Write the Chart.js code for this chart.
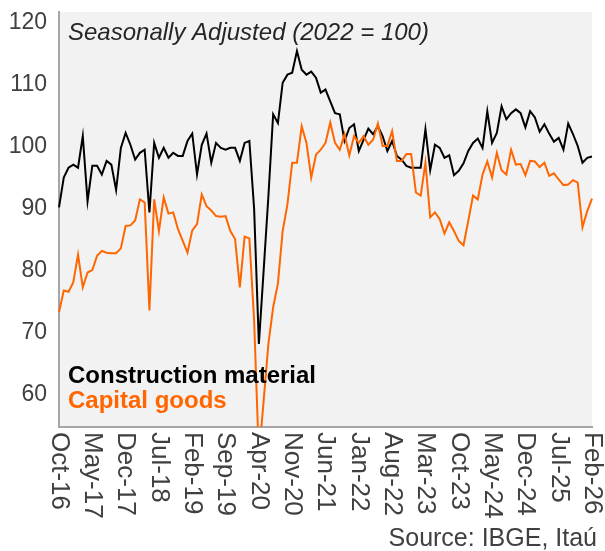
<!DOCTYPE html>
<html>
<head>
<meta charset="utf-8">
<script src="https://cdn.jsdelivr.net/npm/chart.js@4.4.1/dist/chart.umd.min.js"></script>
<style>
  html, body { margin: 0; padding: 0; background: #fff; }
  #wrap { width: 605px; height: 551px; }
</style>
</head>
<body>
<div id="wrap"><canvas id="chart" width="605" height="551"></canvas></div>
<script>
// Monthly categories, Oct-16 .. Feb-26
const monthNames = ['Jan', 'Feb', 'Mar', 'Apr', 'May', 'Jun', 'Jul', 'Aug', 'Sep', 'Oct', 'Nov', 'Dec'];
const months = [];
for (let y = 2016, m = 9; y < 2026 || (y === 2026 && m <= 1); m++) {
    if (m === 12) { m = 0; y++; }
    months.push(monthNames[m] + '-' + String(y).slice(2));
}

const tickLabels = ['Oct-16', 'May-17', 'Dec-17', 'Jul-18', 'Feb-19', 'Sep-19', 'Apr-20', 'Nov-20', 'Jun-21',
    'Jan-22', 'Aug-22', 'Mar-23', 'Oct-23', 'May-24', 'Dec-24', 'Jul-25', 'Feb-26'];
const yTicks = [60, 70, 80, 90, 100, 110, 120];

// Construction material (black)
const construction = [
    90.2, 95.0, 96.6, 97.1, 96.6, 101.7, 91.2, 96.9, 96.9, 95.5,
    97.7, 97.1, 93.0, 99.8, 102.2, 100.3, 97.9, 99.0, 99.5, 89.4,
    100.6, 98.2, 99.8, 98.2, 99.0, 98.5, 98.5, 100.9, 102.1, 95.5,
    100.3, 102.1, 97.4, 100.6, 99.8, 99.5, 99.8, 99.8, 97.7, 100.6,
    100.9, 90.0, 68.2, 80.0, 92.0, 105.2, 103.8, 110.3, 111.6, 111.9,
    115.4, 112.4, 111.6, 112.1, 111.1, 108.7, 109.2, 107.3, 105.4, 105.2,
    100.9, 103.0, 103.6, 99.3, 101.1, 102.9, 102.0, 103.3, 101.7, 99.3,
    100.9, 98.5, 97.9, 96.9, 96.6, 96.6, 96.6, 102.8, 96.2, 100.3,
    99.8, 98.2, 98.6, 95.4, 96.1, 97.3, 99.3, 100.6, 101.3, 99.8,
    105.7, 100.6, 102.2, 106.5, 104.4, 105.4, 106.0, 105.4, 103.1, 105.7,
    104.7, 102.4, 103.6, 102.1, 100.8, 101.4, 99.5, 103.7, 102.0, 100.1,
    97.4, 98.2, 98.4
];

// Capital goods (orange)
const capitalGoods = [
    73.3, 76.8, 76.6, 78.1, 82.6, 77.3, 79.7, 80.1, 82.4, 83.2,
    82.9, 82.8, 82.8, 83.6, 87.2, 87.3, 88.1, 91.5, 91.0, 73.6,
    91.5, 86.4, 91.8, 89.2, 89.4, 86.7, 84.8, 82.9, 86.5, 87.5,
    92.3, 90.4, 89.7, 88.8, 88.7, 88.8, 86.4, 85.1, 77.3, 85.5,
    85.2, 72.0, 50.0, 59.0, 68.2, 74.1, 77.9, 86.4, 90.7, 97.4,
    97.4, 103.3, 100.6, 95.0, 98.7, 99.5, 100.6, 103.9, 100.6, 99.5,
    102.0, 98.6, 101.7, 100.6, 101.7, 100.3, 101.1, 103.7, 100.1, 100.1,
    102.5, 97.7, 97.7, 98.8, 98.8, 92.6, 92.1, 97.4, 88.6, 89.4,
    88.3, 86.0, 87.8, 86.4, 84.8, 84.1, 88.0, 92.1, 91.5, 95.5,
    97.6, 95.0, 99.0, 96.2, 95.5, 99.5, 97.1, 97.2, 95.4, 97.7,
    97.6, 96.7, 97.4, 95.3, 95.7, 94.7, 93.8, 93.9, 94.6, 94.2,
    87.0, 89.6, 91.6
];

const FONT = "'Liberation Sans', Arial, sans-serif";
const BLACK = '#000000';
const ORANGE = '#ff6600';

// plot background + all the drawn texts
const decorations = {
    id: 'decorations',
    beforeDraw(chart) {
        const { ctx, chartArea: a } = chart;
        ctx.save();
        ctx.fillStyle = '#ffffff';
        ctx.fillRect(0, 0, chart.width, chart.height);
        ctx.fillStyle = '#f2f2f2';
        ctx.fillRect(a.left, a.top, a.right - a.left, a.bottom - a.top);
        ctx.restore();
    },
    afterDraw(chart) {
        const { ctx, chartArea: a } = chart;
        const xs = chart.scales.x;
        ctx.save();

        // x labels, rotated to read top to bottom
        ctx.fillStyle = '#404040';
        ctx.font = '26px ' + FONT;
        ctx.textAlign = 'left';
        ctx.textBaseline = 'middle';
        tickLabels.forEach(t => {
            const x = xs.getPixelForValue(months.indexOf(t));
            ctx.save();
            ctx.translate(x, a.bottom + 5);
            ctx.rotate(Math.PI / 2);
            ctx.fillText(t, 0, 0);
            ctx.restore();
        });

        // title inside plot
        ctx.textBaseline = 'alphabetic';
        ctx.fillStyle = '#262626';
        ctx.font = 'italic 24px ' + FONT;
        ctx.fillText('Seasonally Adjusted (2022 = 100)', 68, 40);

        // legend
        ctx.font = 'bold 24px ' + FONT;
        ctx.fillStyle = BLACK;
        ctx.fillText('Construction material', 68, 383);
        ctx.fillStyle = ORANGE;
        ctx.fillText('Capital goods', 68, 408);

        // source
        ctx.font = '25px ' + FONT;
        ctx.fillStyle = '#404040';
        ctx.textAlign = 'right';
        ctx.fillText('Source: IBGE, Itaú', 597, 546);
        ctx.restore();
    }
};

new Chart(document.getElementById('chart'), {
    type: 'line',
    data: {
        labels: months,
        datasets: [
            {
                label: 'Construction material',
                data: construction,
                borderColor: BLACK,
                borderWidth: 2,
                pointRadius: 0,
                tension: 0,
                order: 1
            },
            {
                label: 'Capital goods',
                data: capitalGoods,
                borderColor: ORANGE,
                borderWidth: 2,
                pointRadius: 0,
                tension: 0,
                order: 0
            }
        ]
    },
    options: {
        responsive: false,
        animation: false,
        layout: { padding: { top: 12, right: 13, left: 0, bottom: 0 } },
        plugins: {
            legend: { display: false },
            tooltip: { enabled: false }
        },
        scales: {
            x: {
                ticks: { display: false },
                grid: { display: false, drawTicks: false },
                border: { color: '#a6a6a6', width: 2 },
                afterFit: s => {
                    s.height = 124;
                    s.paddingLeft = 0;
                    s.paddingRight = 0;
                }
            },
            y: {
                min: 54.8,
                max: 121.7,
                afterBuildTicks: s => { s.ticks = yTicks.map(v => ({ value: v })); },
                ticks: {
                    color: '#404040',
                    padding: 12,
                    font: { family: FONT, size: 23, lineHeight: 1 }
                },
                grid: { display: false, drawTicks: false },
                border: { color: '#a6a6a6', width: 2 },
                afterFit: s => {
                    s.width = 59;
                    s.paddingTop = 0;
                    s.paddingBottom = 0;
                }
            }
        }
    },
    plugins: [decorations]
});
</script>
</body>
</html>
